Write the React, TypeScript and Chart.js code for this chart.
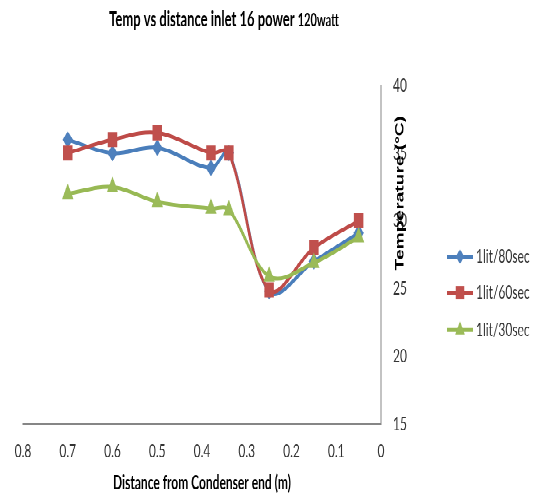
import React, { useEffect, useRef } from 'react';
import { Chart, registerables } from 'chart.js';

Chart.register(...registerables);

// ---- data ----
const distances = [0.7, 0.6, 0.5, 0.38, 0.34, 0.25, 0.15, 0.05];
const flow80 = [36, 35, 35.4, 33.9, 35, 24.8, 27, 29.1];
const flow60 = [35, 36, 36.5, 35, 35, 24.9, 28, 30];
const flow30 = [32, 32.5, 31.4, 30.9, 30.8, 25.9, 26.9, 28.8];
const seriesNames = ['1lit/80sec', '1lit/60sec', '1lit/30sec'];
const lineColors = ['#4A7EBB', '#BE4B48', '#98B954'];
const markerColors = ['#4F81BD', '#C0504D', '#9BBB59'];
const markerShapes = ['rectRot', 'rect', 'triangle'];
const markerRadius = [4.5, 6, 5.5];
const xMin = 0;
const xMax = 0.8;
const xStep = 0.1;
const yMin = 15;
const yMax = 40;
const yStep = 5;
const titleMain = 'Temp vs distance inlet 16 power ';
const titleSmall = '120watt';
const xTitle = 'Distance from Condenser end (m)';
const yTitle = 'Temperature (\u00B0C)';

// ---- layout ----
const W = 533;
const H = 310;
const STRETCH = 495 / H;
const FS = 'Lato, "Liberation Sans", Arial, sans-serif';

function drawMarker(ctx: CanvasRenderingContext2D, shape: string, x: number, y: number, r: number) {
  ctx.beginPath();
  if (shape === 'rectRot') {
    ctx.moveTo(x - r, y);
    ctx.lineTo(x, y - r);
    ctx.lineTo(x + r, y);
    ctx.lineTo(x, y + r);
  } else if (shape === 'rect') {
    const s = r * Math.SQRT1_2;
    ctx.rect(x - s, y - s, 2 * s, 2 * s);
  } else {
    const side = (3 * r) / Math.sqrt(3);
    const h = (side * Math.sqrt(3)) / 2;
    ctx.moveTo(x - side / 2, y + h / 3);
    ctx.lineTo(x + side / 2, y + h / 3);
    ctx.lineTo(x, y - (2 * h) / 3);
  }
  ctx.closePath();
  ctx.fill();
}

const overlayPlugin = {
  id: 'overlay',
  afterDraw(chart: any) {
    const ctx: CanvasRenderingContext2D = chart.ctx;
    ctx.save();
    // chart title
    ctx.fillStyle = '#000';
    ctx.textBaseline = 'alphabetic';
    ctx.textAlign = 'left';
    ctx.font = `bold 13px ${FS}`;
    const w1 = ctx.measureText(titleMain).width;
    ctx.font = `bold 11px ${FS}`;
    const w2 = ctx.measureText(titleSmall).width;
    const x0 = 224 - (w1 + w2) / 2;
    ctx.font = `bold 13px ${FS}`;
    ctx.fillText(titleMain, x0, 16.3);
    ctx.font = `bold 11px ${FS}`;
    ctx.fillText(titleSmall, x0 + w1, 16.3);

    // y axis title (rotated, overlapping tick labels)
    ctx.save();
    ctx.translate(403.5, 120.9);
    ctx.rotate(-Math.PI / 2);
    ctx.font = 'bold 12px "Liberation Sans", Arial, sans-serif';
    ctx.textAlign = 'center';
    ctx.fillStyle = '#000';
    ctx.fillText(yTitle, 0, 0);
    ctx.restore();

    // legend
    const legendY = [160.7, 183.3, 206.6];
    for (let i = 0; i < seriesNames.length; i++) {
      const y = legendY[i];
      ctx.strokeStyle = lineColors[i];
      ctx.lineWidth = 2.5;
      ctx.beginPath();
      ctx.moveTo(447, y);
      ctx.lineTo(473, y);
      ctx.stroke();
      ctx.fillStyle = markerColors[i];
      drawMarker(ctx, markerShapes[i], 460, y, markerRadius[i]);
      ctx.fillStyle = '#333';
      ctx.font = `12px ${FS}`;
      ctx.textAlign = 'left';
      ctx.textBaseline = 'middle';
      ctx.fillText(seriesNames[i], 476, y);
    }
    ctx.restore();
  },
};

export default function App() {
  const canvasRef = useRef<HTMLCanvasElement | null>(null);

  useEffect(() => {
    const canvas = canvasRef.current;
    if (!canvas) return;
    const series = [flow80, flow60, flow30];
    const chart = new Chart(canvas, {
      type: 'line',
      data: {
        datasets: series.map((vals, i) => ({
          label: seriesNames[i],
          data: distances.map((d, j) => ({ x: d, y: vals[j] })),
          borderColor: lineColors[i],
          backgroundColor: markerColors[i],
          pointBackgroundColor: markerColors[i],
          pointBorderColor: markerColors[i],
          pointBorderWidth: 1,
          pointStyle: markerShapes[i] as any,
          pointRadius: markerRadius[i],
          borderWidth: 2.5,
          tension: 0.35,
          fill: false,
          order: 3 - i,
        })),
      },
      options: {
        animation: false,
        responsive: false,
        devicePixelRatio: 2,
        layout: { padding: { top: 53.5, left: 23, right: 112, bottom: 0 } },
        plugins: {
          legend: { display: false },
          title: { display: false },
          tooltip: { enabled: false },
        },
        scales: {
          x: {
            type: 'linear',
            position: 'bottom',
            reverse: true,
            min: xMin,
            max: xMax,
            grid: { display: false, drawTicks: false },
            border: { display: true, color: '#868686', width: 1 },
            ticks: {
              stepSize: xStep,
              padding: 10,
              color: '#333',
              autoSkip: false,
              maxRotation: 0,
              font: { family: FS, size: 12 },
              callback: (v: any) => String(Math.round(Number(v) * 10) / 10),
            },
            title: {
              display: true,
              text: xTitle,
              color: '#000',
              font: { family: FS, size: 12, weight: 'bold' },
              padding: { top: 0, bottom: 0 },
            },
            afterFit: (s: any) => {
              s.height = H - 265.5;
            },
          },
          y: {
            type: 'linear',
            position: 'right',
            min: yMin,
            max: yMax,
            grid: { display: false, drawTicks: false },
            border: { display: true, color: '#868686', width: 1 },
            ticks: {
              stepSize: yStep,
              padding: 12,
              color: '#333',
              font: { family: FS, size: 12 },
            },
            afterFit: (s: any) => {
              s.width = 40;
            },
          },
        },
      },
      plugins: [overlayPlugin],
    } as any);
    return () => chart.destroy();
  }, []);

  return (
    <div
      style={{
        position: 'absolute',
        left: 0,
        top: 0,
        width: W,
        height: H,
        transform: `scaleY(${STRETCH})`,
        transformOrigin: '0 0',
        background: '#fff',
      }}
    >
      <canvas
        ref={canvasRef}
        width={W}
        height={H}
        style={{ width: `${W}px`, height: `${H}px`, display: 'block' }}
      />
    </div>
  );
}
